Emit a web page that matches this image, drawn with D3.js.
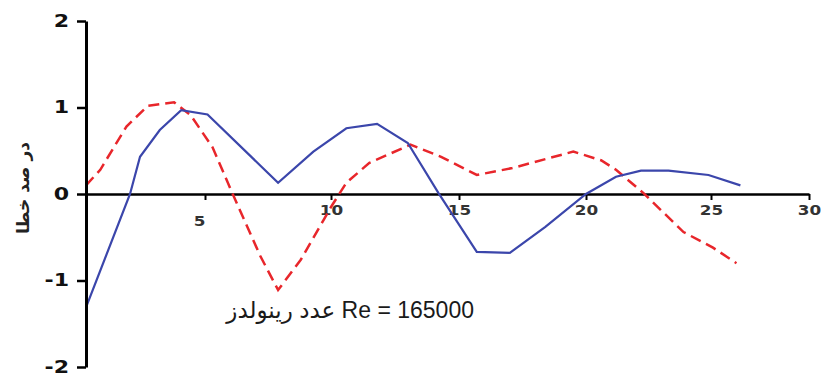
<!DOCTYPE html>
<html>
<head>
<meta charset="utf-8">
<script src="https://cdn.jsdelivr.net/npm/d3@7"></script>
<style>
  body { margin: 0; background: #fff; }
  svg { display: block; }
</style>
</head>
<body>
<div class="content"></div>
<script>
const w = 832;
const h = 380;

// data
const blueX = [0, 1.85, 2.27, 3.1, 4.0, 5.1, 7.9, 9.3, 10.6, 11.8, 13.0, 14.2, 15.7, 17.0, 18.4, 20, 21.2, 22.2, 23.3, 24.9, 26.5];
const blueY = [-1.31, 0, 0.43, 0.74, 0.97, 0.92, 0.13, 0.49, 0.76, 0.81, 0.59, 0.01, -0.67, -0.68, -0.38, 0, 0.2, 0.27, 0.27, 0.22, 0.1];

const redX = [0, 0.6, 1.7, 2.6, 3.7, 4.4, 5.3, 6.1, 7.2, 7.9, 8.8, 10, 10.6, 11.5, 13.1, 14.3, 15.7, 17.1, 19.5, 20.6, 21.2, 22.3, 23.9, 25.1, 26.3];
const redY = [0.1, 0.28, 0.78, 1.02, 1.06, 0.91, 0.54, 0, -0.72, -1.11, -0.76, -0.15, 0.13, 0.36, 0.57, 0.43, 0.22, 0.3, 0.49, 0.39, 0.28, 0.01, -0.44, -0.62, -0.8];

const xTicks = [5, 10, 15, 20, 25, 30];
const yTicks = [-2, -1, 0, 1, 2];

const yTitle = 'در صد خطا';
const note = 'عدد رينولدز Re = 165000';

const blueColor = '#3b46ab';
const redColor = '#e8262b';

const svg = d3.select('.content').append('svg')
  .attr('width', w)
  .attr('height', h);

// the source picture is slightly stretched, so the x scale is piecewise
const xScale = d3.scaleLinear()
  .domain([0, 5, 10, 15, 20, 25, 30])
  .range([86, 205, 331, 459, 586, 711, 809]);

const yScale = d3.scaleLinear()
  .domain([-2, 2])
  .range([367, 21]);

const blue = blueX.map((x, i) => [x, blueY[i]]);
const red = redX.map((x, i) => [x, redY[i]]);

const line = d3.line()
  .x(d => xScale(d[0]))
  .y(d => yScale(d[1]));

// x axis on zero line
const xAxis = svg.append('g')
  .attr('transform', 'translate(0,' + yScale(0) + ')')
  .call(d3.axisBottom(xScale).tickValues(xTicks).tickSize(6).tickSizeOuter(0).tickPadding(5).tickFormat(d => String(d)));

xAxis.select('.domain').attr('stroke', '#000').attr('stroke-width', 2.5);
xAxis.selectAll('.tick line').attr('stroke', '#000').attr('stroke-width', 2);
xAxis.selectAll('.tick text')
  .attr('font-family', 'DejaVu Sans, sans-serif')
  .attr('font-size', 14)
  .attr('font-weight', 'bold')
  .attr('fill', '#333')
  .attr('transform', 'scale(1.2,1)')
  .attr('x', d => d === 5 ? -5 : 0)
  .attr('dy', d => d === 5 ? '1.5em' : '0.71em');

svg.append('path')
  .datum(red)
  .attr('d', line)
  .attr('fill', 'none')
  .attr('stroke', redColor)
  .attr('stroke-width', 2.5)
  .attr('stroke-dasharray', '11 6');

svg.append('path')
  .datum(blue)
  .attr('d', line)
  .attr('fill', 'none')
  .attr('stroke', blueColor)
  .attr('stroke-width', 2.2);

const yAxis = svg.append('g')
  .attr('transform', 'translate(' + xScale(0) + ',0)')
  .call(d3.axisLeft(yScale).tickValues(yTicks).tickSize(9).tickSizeOuter(0).tickFormat(d => String(d)));

yAxis.select('.domain').attr('stroke', '#000').attr('stroke-width', 3);
yAxis.selectAll('.tick line').attr('stroke', '#000').attr('stroke-width', 2.5);
// labels are drawn a bit wider than the font, as in the source picture
yAxis.selectAll('.tick text')
  .attr('font-family', 'DejaVu Sans, sans-serif')
  .attr('font-size', 17)
  .attr('font-weight', 'bold')
  .attr('fill', '#111')
  .attr('x', -17 / 1.3)
  .attr('transform', 'scale(1.3,1)');

svg.append('text')
  .attr('transform', 'translate(24,188) rotate(-90)')
  .attr('text-anchor', 'middle')
  .attr('dominant-baseline', 'middle')
  .attr('font-family', 'DejaVu Sans, sans-serif')
  .attr('font-size', 17)
  .attr('font-weight', 'bold')
  .attr('fill', '#222')
  .text(yTitle);

svg.append('text')
  .attr('x', 474)
  .attr('y', 318)
  .attr('text-anchor', 'end')
  .attr('direction', 'ltr')
  .attr('font-family', 'Liberation Sans, DejaVu Sans, Arial, sans-serif')
  .attr('font-size', 23)
  .attr('fill', '#1a1a1a')
  .text(note);
</script>
</body>
</html>
